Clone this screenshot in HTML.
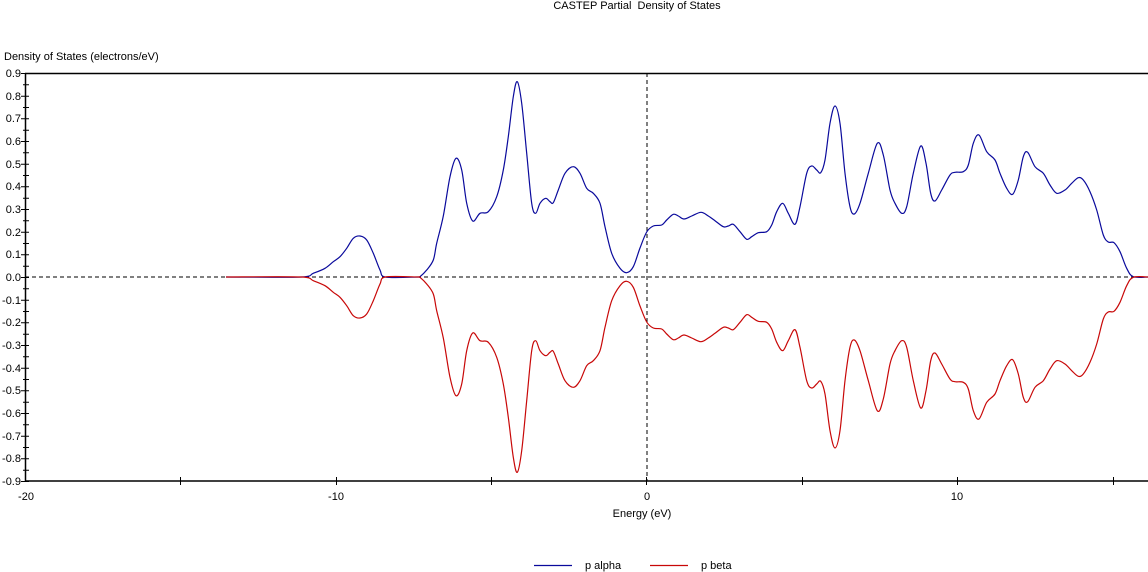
<!DOCTYPE html>
<html><head><meta charset="utf-8"><style>
html,body{margin:0;padding:0;background:#fff;}
svg{display:block;}
text{font-family:"Liberation Sans",Tahoma,sans-serif;font-size:11px;fill:#000;}
</style></head><body>
<svg width="1148" height="572" viewBox="0 0 1148 572" xmlns="http://www.w3.org/2000/svg">
<rect width="1148" height="572" fill="#fff"/>
<text x="637" y="9" text-anchor="middle">CASTEP Partial&#160; Density of States</text>
<text x="4" y="60">Density of States (electrons/eV)</text>
<!-- axes -->
<line x1="25" y1="73.5" x2="1148" y2="73.5" stroke="#000" stroke-width="1.5"/>
<line x1="25" y1="481" x2="1148" y2="481" stroke="#000" stroke-width="1.5"/>
<line x1="25.5" y1="73" x2="25.5" y2="481" stroke="#000" stroke-width="1.5"/>
<!-- dashed zero lines -->
<line x1="25" y1="277" x2="1148" y2="277" stroke="#000" stroke-width="1" stroke-dasharray="4,3"/>
<line x1="647" y1="73" x2="647" y2="481" stroke="#000" stroke-width="1" stroke-dasharray="4,3"/>
<!-- y ticks -->
<g stroke="#000" stroke-width="1">
<path d="M21 73.5H29M21 96.2H29M21 118.8H29M21 141.5H29M21 164.2H29M21 186.8H29M21 209.5H29M21 232.2H29M21 254.8H29M21 277.5H29M21 300.2H29M21 322.8H29M21 345.5H29M21 368.2H29M21 390.8H29M21 413.5H29M21 436.2H29M21 458.8H29M21 481.5H29"/>
<path d="M23 84.8H29M23 107.5H29M23 130.2H29M23 152.8H29M23 175.5H29M23 198.2H29M23 220.8H29M23 243.5H29M23 266.2H29M23 288.8H29M23 311.5H29M23 334.2H29M23 356.8H29M23 379.5H29M23 402.2H29M23 424.8H29M23 447.5H29M23 470.2H29"/>
<path d="M180.5 477V485M491.5 477V485M802.5 477V485M1113.5 477V485M336.5 477V485M646.5 477V485M957.5 477V485"/>
</g>
<g text-anchor="end">
<text x="21" y="77">0.9</text><text x="21" y="100">0.8</text><text x="21" y="122">0.7</text><text x="21" y="145">0.6</text><text x="21" y="168">0.5</text><text x="21" y="190">0.4</text><text x="21" y="213">0.3</text><text x="21" y="236">0.2</text><text x="21" y="258">0.1</text><text x="21" y="281">0.0</text><text x="21" y="304">-0.1</text><text x="21" y="326">-0.2</text><text x="21" y="349">-0.3</text><text x="21" y="372">-0.4</text><text x="21" y="394">-0.5</text><text x="21" y="417">-0.6</text><text x="21" y="440">-0.7</text><text x="21" y="462">-0.8</text><text x="21" y="485">-0.9</text>
</g>
<g text-anchor="middle">
<text x="26" y="500">-20</text><text x="336" y="500">-10</text><text x="647" y="500">0</text><text x="957" y="500">10</text>
<text x="642" y="517">Energy (eV)</text>
</g>
<!-- curves -->
<polyline class="sm" fill="none" stroke="#0a0a9c" stroke-width="1.2" stroke-linejoin="round" points="226,277 301.7,277 313.3,273.3 325,268.3 333.3,261.7 340,256.7 346.7,248.3 353.3,238.3 360,236 366.7,240 373.3,253.3 380,270 385,277 418.3,277 420,276.7 426.7,270 433.3,260 436.7,243.3 443.3,216 450,176.7 456,158.3 461.7,170 466.7,203.3 472.7,221 480,213.3 488.3,211.7 496.7,196.7 503.3,170 508.3,136.7 513.3,96.7 517.3,81.7 521.7,103.3 526.7,153.3 531.7,203.3 535.7,213.3 540,203.3 545.7,198.3 550,201.7 553.3,202.7 558.3,190 565,173.3 573.3,166.7 580,173.3 586.7,188.3 593.3,193.3 600,203.3 605,226.7 611.7,253.3 620,268.3 626.7,272.7 633.3,266.7 640,248 646.7,232 653.3,226 661.7,225 666.7,220 673.3,214.3 678.3,216 684,219 691.7,216 701,212.3 708.3,216 715,220.7 723.3,226.7 728.3,226 733.3,224.3 740,231.7 746.7,239.3 751.7,236.7 758.3,232.7 766.7,231.7 771.7,225 776.7,211.7 782.7,203.3 788.3,213.3 795,224.3 800,206.7 806.7,173.3 811.7,166 816.7,170 820.7,172.7 825,160 830,123.3 835,106 840,123.3 845,173.3 850,206.7 854.3,214 860,203.3 868.3,173.3 877.3,143.3 883.3,155 890,190 895,203.3 901.7,213.3 906.7,206.7 913.3,173.3 920.7,146 926,163.3 930.7,193.3 935,201 941.7,190 950,175 955,172.3 963.3,171.7 968.3,165 973.3,143.3 979,135 986.7,151.7 995,160 1000,173.3 1006.7,188.3 1012.7,194.3 1018.3,180 1023.3,156.7 1027.7,152.3 1035,166.7 1043.3,173.3 1050,185 1056.7,193.3 1065,190 1071.7,183.3 1078.3,177.7 1083.3,180 1090,191.7 1096.7,210 1103.3,235 1108.3,242 1114,242.7 1120,251.7 1126.7,268.3 1133.3,276.7 1148,277"/>
<g transform="translate(0,554) scale(1,-1)">
<polyline class="sm" fill="none" stroke="#c80808" stroke-width="1.2" stroke-linejoin="round" points="226,277 301.7,277 313.3,273.3 325,268.3 333.3,261.7 340,256.7 346.7,248.3 353.3,238.3 360,236 366.7,240 373.3,253.3 380,270 385,277 418.3,277 420,276.7 426.7,270 433.3,260 436.7,243.3 443.3,216 450,176.7 456,158.3 461.7,170 466.7,203.3 472.7,221 480,213.3 488.3,211.7 496.7,196.7 503.3,170 508.3,136.7 513.3,96.7 517.3,81.7 521.7,103.3 526.7,153.3 531.7,203.3 535.7,213.3 540,203.3 545.7,198.3 550,201.7 553.3,202.7 558.3,190 565,173.3 573.3,166.7 580,173.3 586.7,188.3 593.3,193.3 600,203.3 605,226.7 611.7,253.3 620,268.3 626.7,272.7 633.3,266.7 640,248 646.7,232 653.3,226 661.7,225 666.7,220 673.3,214.3 678.3,216 684,219 691.7,216 701,212.3 708.3,216 715,220.7 723.3,226.7 728.3,226 733.3,224.3 740,231.7 746.7,239.3 751.7,236.7 758.3,232.7 766.7,231.7 771.7,225 776.7,211.7 782.7,203.3 788.3,213.3 795,224.3 800,206.7 806.7,173.3 811.7,166 816.7,170 820.7,172.7 825,160 830,123.3 835,106 840,123.3 845,173.3 850,206.7 854.3,214 860,203.3 868.3,173.3 877.3,143.3 883.3,155 890,190 895,203.3 901.7,213.3 906.7,206.7 913.3,173.3 920.7,146 926,163.3 930.7,193.3 935,201 941.7,190 950,175 955,172.3 963.3,171.7 968.3,165 973.3,143.3 979,135 986.7,151.7 995,160 1000,173.3 1006.7,188.3 1012.7,194.3 1018.3,180 1023.3,156.7 1027.7,152.3 1035,166.7 1043.3,173.3 1050,185 1056.7,193.3 1065,190 1071.7,183.3 1078.3,177.7 1083.3,180 1090,191.7 1096.7,210 1103.3,235 1108.3,242 1114,242.7 1120,251.7 1126.7,268.3 1133.3,276.7 1148,277"/>
</g>
<!-- legend -->
<line x1="534" y1="565.5" x2="572" y2="565.5" stroke="#0a0a9c" stroke-width="1.2"/>
<text x="585" y="569">p alpha</text>
<line x1="650" y1="565.5" x2="688" y2="565.5" stroke="#c80808" stroke-width="1.2"/>
<text x="701" y="569">p beta</text>
</svg>
<script>
(function(){
  var NS="http://www.w3.org/2000/svg";
  var pls=document.querySelectorAll("polyline.sm");
  for(var k=0;k<pls.length;k++){
    var pl=pls[k];
    var raw=pl.getAttribute("points").trim().split(/\s+/);
    var p=raw.map(function(s){var a=s.split(",");return [parseFloat(a[0]),parseFloat(a[1])];});
    var d="M"+p[0][0]+" "+p[0][1];
    for(var i=0;i<p.length-1;i++){
      var p0=p[i-1]||p[i],p1=p[i],p2=p[i+1],p3=p[i+2]||p2;
      var t=1/6;
      var c1x=p1[0]+(p2[0]-p0[0])*t,c1y=p1[1]+(p2[1]-p0[1])*t;
      var c2x=p2[0]-(p3[0]-p1[0])*t,c2y=p2[1]-(p3[1]-p1[1])*t;
      // keep control x within segment to avoid loops
      c1x=Math.min(Math.max(c1x,p1[0]),p2[0]);c2x=Math.min(Math.max(c2x,p1[0]),p2[0]);
      d+=" C"+c1x.toFixed(2)+" "+c1y.toFixed(2)+" "+c2x.toFixed(2)+" "+c2y.toFixed(2)+" "+p2[0]+" "+p2[1];
    }
    var path=document.createElementNS(NS,"path");
    path.setAttribute("d",d);
    path.setAttribute("fill","none");
    path.setAttribute("stroke",pl.getAttribute("stroke"));
    path.setAttribute("stroke-width",pl.getAttribute("stroke-width"));
    path.setAttribute("stroke-linejoin","round");
    pl.parentNode.replaceChild(path,pl);
  }
})();
</script>
</body></html>
